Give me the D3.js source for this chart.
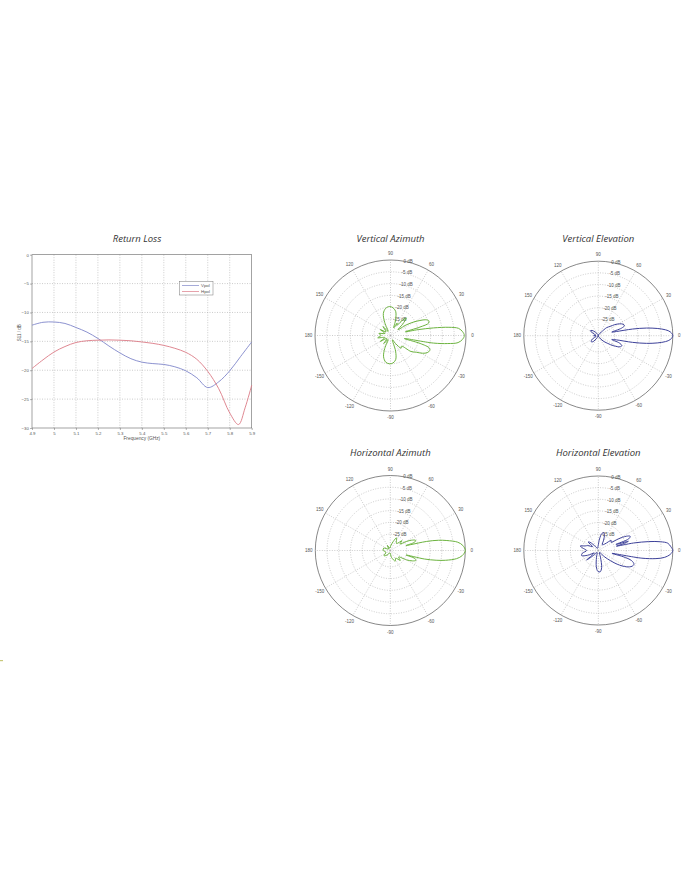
<!DOCTYPE html>
<html><head><meta charset="utf-8">
<script src="https://cdn.jsdelivr.net/npm/d3@7"></script>
<style>html,body{margin:0;padding:0;background:#fff}svg{display:block}</style>
</head><body>
<svg id="c" width="700" height="886"></svg>
<script>
// ---------- Return loss data ----------
const freqTicks = [4.9,5.0,5.1,5.2,5.3,5.4,5.5,5.6,5.7,5.8,5.9];
const freqTickLabels = ["4.9","5","5.1","5.2","5.3","5.4","5.5","5.6","5.7","5.8","5.9"];
const dbTicks = [0,-5,-10,-15,-20,-25,-30];
const vpolFreq = [4.9,4.95,5.0,5.05,5.1,5.15,5.2,5.25,5.3,5.35,5.4,5.45,5.5,5.55,5.6,5.65,5.7,5.75,5.8,5.85,5.9];
const vpolDb   = [-12.2,-11.7,-11.65,-11.9,-12.6,-13.4,-14.5,-15.8,-17.0,-18.0,-18.6,-18.85,-19.0,-19.4,-20.1,-21.3,-23.0,-22.0,-20.1,-17.6,-15.1];
const hpolFreq = [4.9,4.95,5.0,5.05,5.1,5.15,5.2,5.25,5.3,5.35,5.4,5.45,5.5,5.55,5.6,5.65,5.7,5.75,5.8,5.84,5.87,5.9];
const hpolDb   = [-19.7,-18.2,-16.85,-15.9,-15.2,-14.9,-14.8,-14.75,-14.8,-14.9,-15.1,-15.35,-15.7,-16.2,-16.9,-18.1,-20.2,-23.2,-27.4,-29.4,-26.5,-22.6];
const seriesNames = ["Vpol","Hpol"];

// ---------- Polar pattern data (degrees, dB) ----------
const ringDb = [-5,-10,-15,-20,-25];
const ringLabels = ["0 dB","-5 dB","-10 dB","-15 dB","-20 dB","-25 dB"];
const spokeAngles = [0,30,60,90,120,150,180,-150,-120,-90,-60,-30];

const vaAngle = [-180,-170,-160,-150,-140,-130,-120,-114,-108,-100,-92,-85,-78,-72,-66,-58,-50,-44,-38,-33,-29,-25,-21,-18,-15,-12.5,-10,-8,-6,-3,0,3,6,8,10,12,14,16,18,21,24,27,30,34,38,43,48,53,58,62,67,72,78,85,92,100,108,114,120,130,140,150,160,170];
const vaDb    = [-28,-26.5,-29.5,-27,-30,-27.5,-30,-26,-22.5,-20.5,-20,-20.3,-21.5,-25,-30,-28,-25,-25.5,-21,-19,-16.5,-14.8,-14.2,-14.6,-19,-26,-13.5,-7.5,-3.2,-1.4,-0.7,-1.4,-3,-7,-13.5,-20,-25.5,-19,-15,-14.6,-15.6,-18,-20.5,-24,-28,-25,-22,-24.5,-27,-26,-28.5,-25,-21.5,-20.2,-19.7,-20.3,-22.2,-26,-30,-27,-29.5,-27,-29.5,-27];

const veAngle = [-180,-165,-150,-140,-132,-120,-100,-80,-60,-48,-40,-33,-27,-23,-19,-16,-13,-11,-9,-7,-5,-3,0,3,5,7,9,11,13,15,18,21,25,29,34,38,44,50,70,90,110,130,140,148,158,170];
const veDb    = [-30,-31,-29,-28,-28.5,-31,-32,-31.5,-31,-29,-27,-24,-21.5,-21,-22.5,-26,-24,-17,-11,-6.5,-3,-1,0,-1,-3,-6.5,-11,-17,-24,-26,-21.5,-20,-20.3,-21.5,-23.5,-25.5,-27,-30,-31.5,-32,-31.5,-30,-28.5,-28,-30,-31];

const haAngle = [-180,-160,-140,-120,-100,-80,-65,-55,-45,-38,-30,-25,-21,-18,-16,-14,-12,-10,-7,-4,0,4,7,10,12,14,16,17.5,19,22,26,29,34,40,48,58,64,72,85,100,120,140,160];
const haDb    = [-29,-30,-28.5,-30,-31,-29,-27,-28,-26,-27.5,-24,-21.5,-20.3,-21,-25,-17,-12,-8,-3.5,-1.2,0,-1,-3,-7.5,-11,-16,-23,-25,-21,-20.4,-22,-24,-27,-25.5,-28,-27,-26,-28,-30,-31,-29.5,-31,-29];

const heAngle = [-180,-170,-163,-156,-148,-141,-134,-120,-105,-97,-91,-85,-79,-72,-60,-45,-36,-30,-25,-21,-17,-14,-12,-10,-8,-6,-3,0,3,6,8,10,12,13.5,15,17,19,21,24,27,30,33,38,45,55,63,68,73,78,84,92,110,125,135,140,146,155,161,166,172];
const heDb    = [-27,-25,-24.5,-27,-30,-25.5,-29,-31,-29,-25,-23,-22.8,-24.5,-29,-31,-28,-22,-18,-16,-15.6,-17,-21,-26,-13,-7,-3.5,-1,0,-0.8,-2,-5,-10,-16.5,-24,-21,-18.5,-24,-18,-17,-18.5,-22,-25.5,-25,-28,-29,-27,-25,-24,-24.5,-27,-30,-31,-30,-27,-26.3,-29,-27,-26,-24,-25.5];

const svg = d3.select("#c");
svg.append("rect").attr("width",700).attr("height",886).attr("fill","#fff");

const titleFont = "'Open Sans', 'DejaVu Sans', sans-serif";
const tinyFont = "'Liberation Sans', Arial, sans-serif";

// ---------- Return Loss chart ----------
(function(){
  const x = d3.scaleLinear().domain([4.9,5.9]).range([32,251.7]);
  const y = d3.scaleLinear().domain([-30,0]).range([428,254.7]);
  const g = svg.append("g");
  g.selectAll(".vg").data(freqTicks.slice(1,-1)).join("line")
    .attr("x1",d=>x(d)).attr("x2",d=>x(d)).attr("y1",y(0)).attr("y2",y(-30))
    .attr("stroke","#aaa").attr("stroke-width",0.6).attr("stroke-dasharray","1,1.5");
  g.selectAll(".hg").data(dbTicks.slice(1,-1)).join("line")
    .attr("x1",x(4.9)).attr("x2",x(5.9)).attr("y1",d=>y(d)).attr("y2",d=>y(d))
    .attr("stroke","#aaa").attr("stroke-width",0.6).attr("stroke-dasharray","1,1.5");
  g.append("rect").attr("x",x(4.9)).attr("y",y(0)).attr("width",x(5.9)-x(4.9)).attr("height",y(-30)-y(0))
    .attr("fill","none").attr("stroke","#666").attr("stroke-width",0.6);
  const xa = d3.axisBottom(x).tickValues(freqTicks).tickFormat((d,i)=>freqTickLabels[i]).tickSize(2).tickPadding(1.5);
  const ya = d3.axisLeft(y).tickValues(dbTicks).tickFormat(d3.format("d")).tickSize(2).tickPadding(1.2);
  const gx = g.append("g").attr("transform",`translate(0,${y(-30)})`).call(xa);
  const gy = g.append("g").attr("transform",`translate(${x(4.9)},0)`).call(ya);
  [gx,gy].forEach(a=>{
    a.select(".domain").remove();
    a.selectAll("line").attr("stroke","#666").attr("stroke-width",0.5);
    a.selectAll("text").attr("font-family",tinyFont).attr("font-size",4.3).attr("fill","#555");
  });
  g.append("text").attr("x",x(5.4)).attr("y",439.5).attr("text-anchor","middle")
    .attr("font-family",tinyFont).attr("font-size",4.8).attr("fill","#555").text("Frequency (GHz)");
  g.append("text").attr("transform",`translate(20.5,${y(-13.5)}) rotate(-90)`).attr("text-anchor","middle")
    .attr("font-family",tinyFont).attr("font-size",4.5).attr("fill","#555").text("S11 / dB");
  const line = d3.line().curve(d3.curveCatmullRom.alpha(0.5)).x(d=>x(d[0])).y(d=>y(d[1]));
  g.append("path").attr("d",line(d3.zip(vpolFreq,vpolDb))).attr("fill","none").attr("stroke","#7f86c9").attr("stroke-width",0.9);
  g.append("path").attr("d",line(d3.zip(hpolFreq,hpolDb))).attr("fill","none").attr("stroke","#db7a86").attr("stroke-width",0.9);
  const lg = g.append("g");
  lg.append("rect").attr("x",179.5).attr("y",281.5).attr("width",33.5).attr("height",13.5).attr("fill","#fff").attr("stroke","#777").attr("stroke-width",0.5);
  const lcol = ["#7f86c9","#db7a86"];
  seriesNames.forEach((n,i)=>{
    const ly = 285.5 + i*6;
    lg.append("line").attr("x1",182).attr("x2",199).attr("y1",ly).attr("y2",ly).attr("stroke",lcol[i]).attr("stroke-width",0.7);
    lg.append("text").attr("x",201).attr("y",ly+1.5).attr("font-family",tinyFont).attr("font-size",4.4).attr("fill","#555").text(n);
  });
  svg.append("text").attr("x",137).attr("y",242).attr("text-anchor","middle")
    .attr("font-family",titleFont).attr("font-style","italic").attr("font-size",9.5).attr("fill","#333").text("Return Loss");
})();

// ---------- Polar plots ----------
function polar(cx, cy, R, title, ty, angles, dbs, color){
  const g = svg.append("g").attr("transform",`translate(${cx},${cy})`);
  const r = d3.scaleLinear().domain([-32,0]).range([0,R]).clamp(true);
  const rad = a => a*Math.PI/180;
  g.selectAll(".ring").data(ringDb).join("circle").attr("r",d=>r(d))
    .attr("fill","none").attr("stroke","#aaa").attr("stroke-width",0.6).attr("stroke-dasharray","1,1.5");
  g.selectAll(".spoke").data(spokeAngles).join("line")
    .attr("x1",0).attr("y1",0).attr("x2",d=>R*Math.cos(rad(d))).attr("y2",d=>-R*Math.sin(rad(d)))
    .attr("stroke","#aaa").attr("stroke-width",0.6).attr("stroke-dasharray","1,1.5");
  g.append("circle").attr("r",r(0)).attr("fill","none").attr("stroke","#555").attr("stroke-width",0.7);
  g.selectAll(".al").data(spokeAngles).join("text")
    .attr("x",d=>(R+6.5)*Math.cos(rad(d))).attr("y",d=>-(R+6.5)*Math.sin(rad(d))+1.5)
    .attr("text-anchor","middle").attr("font-family",tinyFont).attr("font-size",4.5).attr("fill","#555")
    .text(d=>d);
  const ringAll = [0].concat(ringDb);
  g.selectAll(".dl").data(ringAll).join("text")
    .attr("x",d=>r(d)*Math.cos(rad(80))).attr("y",d=>-r(d)*Math.sin(rad(80))+1.5)
    .attr("font-family",tinyFont).attr("font-size",4.5).attr("fill","#555")
    .text((d,i)=>ringLabels[i]);
  const pts = d3.zip(angles,dbs);
  const lr = d3.lineRadial().curve(d3.curveCatmullRomClosed.alpha(0.5))
    .angle(d=>rad(90-d[0])).radius(d=>r(d[1]));
  g.append("path").attr("d",lr(pts)).attr("fill","none").attr("stroke",color).attr("stroke-width",1);
  svg.append("text").attr("x",cx).attr("y",ty).attr("text-anchor","middle")
    .attr("font-family",titleFont).attr("font-style","italic").attr("font-size",9.5).attr("fill","#333").text(title);
}
const green = "#6cb33f", blue = "#3d4199";
polar(390.5,335.5,75.5,"Vertical Azimuth",242,vaAngle,vaDb,green);
polar(598.3,335.7,74.5,"Vertical Elevation",242,veAngle,veDb,blue);
polar(390.3,550.5,75,"Horizontal Azimuth",455.5,haAngle,haDb,green);
polar(598.3,550.5,74.5,"Horizontal Elevation",455.5,heAngle,heDb,blue);
svg.append("rect").attr("x",0).attr("y",660).attr("width",3).attr("height",1.2).attr("fill","#c8c87a");
</script>
</body></html>
